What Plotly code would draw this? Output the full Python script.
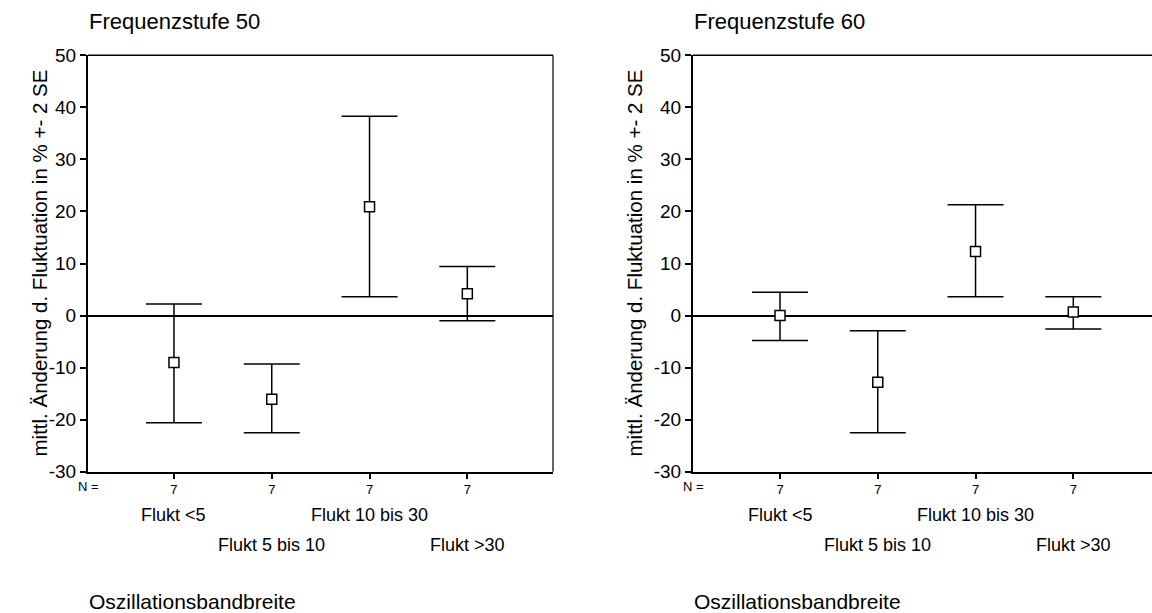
import plotly.graph_objects as go

# ---- data ----
categories = ["Flukt <5", "Flukt 5 bis 10", "Flukt 10 bis 30", "Flukt >30"]
n_values = [7, 7, 7, 7]
panel_titles = ["Frequenzstufe 50", "Frequenzstufe 60"]
y_tick_values = [-30, -20, -10, 0, 10, 20, 30, 40, 50]
y_tick_labels = ["-30", "-20", "-10", "0", "10", "20", "30", "40", "50"]

mean_50 = [-9.0, -16.1, 20.9, 4.2]
upper_50 = [2.2, -9.3, 38.3, 9.4]
lower_50 = [-20.6, -22.5, 3.6, -1.0]

mean_60 = [0.0, -12.8, 12.3, 0.7]
upper_60 = [4.5, -2.9, 21.3, 3.6]
lower_60 = [-4.8, -22.5, 3.6, -2.6]

y_title = "mittl. Änderung d. Fluktuation in % +- 2 SE"
x_title = "Oszillationsbandbreite"

FONT = "Liberation Sans, Arial, Helvetica, sans-serif"
W, H = 1152, 613

fig = go.Figure()
positions = list(range(1, len(categories) + 1))

panels = [
    dict(mean=mean_50, upper=upper_50, lower=lower_50, xa="x", ya="y"),
    dict(mean=mean_60, upper=upper_60, lower=lower_60, xa="x2", ya="y2"),
]
for p in panels:
    plus = [u - m for u, m in zip(p["upper"], p["mean"])]
    minus = [m - l for m, l in zip(p["mean"], p["lower"])]
    fig.add_trace(go.Scatter(
        x=positions, y=p["mean"], mode="markers",
        xaxis=p["xa"], yaxis=p["ya"],
        marker=dict(symbol="square", size=10, color="white",
                    line=dict(color="black", width=1.5)),
        error_y=dict(type="data", symmetric=False, array=plus, arrayminus=minus,
                     color="black", thickness=1.5, width=28),
        showlegend=False, hoverinfo="skip",
    ))

# geometry in pixels
y_top, y_bot = 55.3, 471.7
left_dom = [88 / W, 553 / W]
right_dom = [693 / W, 1.0]
ydom = [1 - y_bot / H, 1 - y_top / H]

common_y = dict(range=[-30, 50], tickvals=y_tick_values, ticktext=y_tick_labels,
                ticks="outside", ticklen=6,
                tickwidth=1.5, tickcolor="black", showline=True, linewidth=2,
                linecolor="black", showgrid=False, zeroline=True,
                zerolinecolor="black", zerolinewidth=1.5, automargin=False,
                tickfont=dict(family=FONT, size=19, color="black"), domain=ydom)
common_x = dict(tickvals=positions, ticktext=[str(n) for n in n_values],
                ticks="outside", ticklen=5, tickwidth=1.5, tickcolor="black",
                showline=True, linewidth=2, linecolor="black", showgrid=False,
                zeroline=False, automargin=False,
                tickfont=dict(family=FONT, size=13, color="black"))

fig.update_layout(
    template="none",
    width=W, height=H, autosize=False, margin=dict(l=0, r=0, t=0, b=0, pad=0),
    paper_bgcolor="white", plot_bgcolor="white",
    xaxis=dict(common_x, domain=left_dom, range=[0.121, 4.876], anchor="y"),
    yaxis=dict(common_y, anchor="x"),
    xaxis2=dict(common_x, domain=right_dom, range=[0.110, 4.805], anchor="y2"),
    yaxis2=dict(common_y, anchor="x2"),
)

# box borders (top & right thinner)
fig.add_shape(type="line", xref="x domain", yref="y domain", x0=0, x1=1, y0=1, y1=1,
              line=dict(color="black", width=1.5))
fig.add_shape(type="line", xref="x domain", yref="y domain", x0=1, x1=1, y0=0, y1=1,
              line=dict(color="black", width=1.2))
fig.add_shape(type="line", xref="x2 domain", yref="y2 domain", x0=0, x1=1, y0=1, y1=1,
              line=dict(color="black", width=1.5))

ann = []
row_y = [1 - 515 / H, 1 - 545 / H]
for xa, dom, title, ytx in [("x", left_dom, panel_titles[0], 39),
                            ("x2", right_dom, panel_titles[1], 634)]:
    ann.append(dict(text=title, xref="paper", yref="paper", x=dom[0] - 1 / W, y=1 - 21.7 / H,
                    xanchor="left", yanchor="middle", showarrow=False,
                    font=dict(family=FONT, size=22, color="black")))
    ann.append(dict(text=x_title, xref="paper", yref="paper", x=dom[0] - 1 / W, y=1 - 601.7 / H,
                    xanchor="left", yanchor="middle", showarrow=False,
                    font=dict(family=FONT, size=21, color="black")))
    ann.append(dict(text="N =", xref="paper", yref="paper", x=dom[0], y=1 - 486.7 / H,
                    xanchor="center", yanchor="middle", showarrow=False,
                    font=dict(family=FONT, size=13, color="black")))
    ann.append(dict(text=y_title, xref="paper", yref="paper", x=ytx / W,
                    y=(ydom[0] + ydom[1]) / 2, textangle=-90,
                    xanchor="center", yanchor="middle", showarrow=False,
                    font=dict(family=FONT, size=20.5, color="black")))
    for i, cat in enumerate(categories):
        ann.append(dict(text=cat, xref=xa, yref="paper", x=positions[i], y=row_y[i % 2],
                        xanchor="center", yanchor="middle", showarrow=False,
                        font=dict(family=FONT, size=18, color="black")))
fig.update_layout(annotations=ann)

fig.write_html("out.html", config={"displayModeBar": False},
               post_script="document.body.style.margin='0';document.body.style.overflow='hidden';")
